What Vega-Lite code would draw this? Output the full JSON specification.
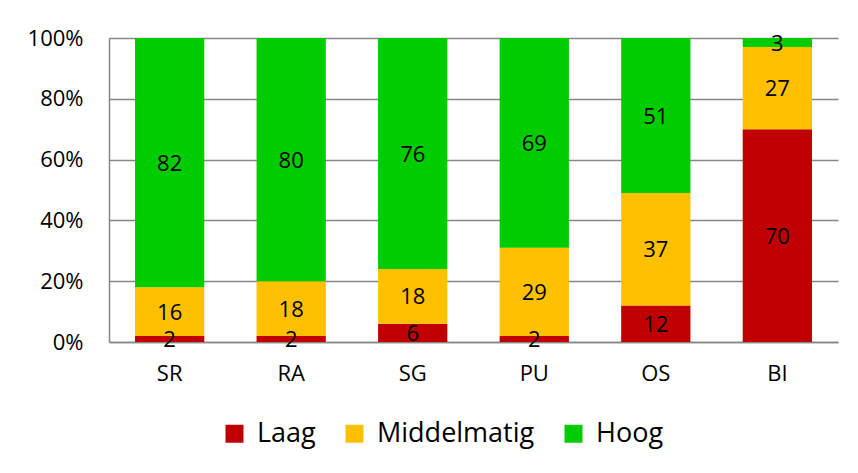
{
  "$schema": "https://vega.github.io/schema/vega-lite/v6.json",
  "autosize": "none",
  "width": 729,
  "height": 304,
  "padding": {"left": 109, "top": 38, "right": 20, "bottom": 131},
  "background": "white",
  "config": {
    "view": {"stroke": null},
    "font": "Open Sans",
    "axis": {"labelFont": "Open Sans", "labelColor": "black", "domainColor": "#878787", "gridColor": "#878787", "ticks": false, "title": null},
    "legend": {"labelFont": "Open Sans"}
  },
  "data": {
    "values": [
      {"cat": "SR", "niveau": "Laag", "order": 1, "value": 2},
      {"cat": "SR", "niveau": "Middelmatig", "order": 2, "value": 16},
      {"cat": "SR", "niveau": "Hoog", "order": 3, "value": 82},
      {"cat": "RA", "niveau": "Laag", "order": 1, "value": 2},
      {"cat": "RA", "niveau": "Middelmatig", "order": 2, "value": 18},
      {"cat": "RA", "niveau": "Hoog", "order": 3, "value": 80},
      {"cat": "SG", "niveau": "Laag", "order": 1, "value": 6},
      {"cat": "SG", "niveau": "Middelmatig", "order": 2, "value": 18},
      {"cat": "SG", "niveau": "Hoog", "order": 3, "value": 76},
      {"cat": "PU", "niveau": "Laag", "order": 1, "value": 2},
      {"cat": "PU", "niveau": "Middelmatig", "order": 2, "value": 29},
      {"cat": "PU", "niveau": "Hoog", "order": 3, "value": 69},
      {"cat": "OS", "niveau": "Laag", "order": 1, "value": 12},
      {"cat": "OS", "niveau": "Middelmatig", "order": 2, "value": 37},
      {"cat": "OS", "niveau": "Hoog", "order": 3, "value": 51},
      {"cat": "BI", "niveau": "Laag", "order": 1, "value": 70},
      {"cat": "BI", "niveau": "Middelmatig", "order": 2, "value": 27},
      {"cat": "BI", "niveau": "Hoog", "order": 3, "value": 3}
    ]
  },
  "transform": [
    {"stack": "value", "groupby": ["cat"], "sort": [{"field": "order"}], "offset": "normalize", "as": ["y0", "y1"]},
    {"calculate": "(datum.y0 + datum.y1) / 2", "as": "ym"}
  ],
  "layer": [
    {
      "mark": {"type": "bar"},
      "encoding": {
        "x": {
          "field": "cat", "type": "nominal",
          "sort": ["SR", "RA", "SG", "PU", "OS", "BI"],
          "scale": {"paddingInner": 0.43, "paddingOuter": 0.214},
          "axis": {"labelAngle": 0, "labelFontSize": 22, "labelPadding": 21, "domainWidth": 1.5}
        },
        "y": {
          "field": "y1", "type": "quantitative",
          "scale": {"domain": [0, 1], "nice": false},
          "axis": {"format": "%", "values": [0, 0.2, 0.4, 0.6, 0.8, 1], "labelFontSize": 22, "labelPadding": 26, "grid": true, "gridWidth": 1.3, "domainWidth": 1.5}
        },
        "y2": {"field": "y0"},
        "color": {
          "field": "niveau", "type": "nominal",
          "scale": {"domain": ["Laag", "Middelmatig", "Hoog"], "range": ["#C00000", "#FFC000", "#00CC00"]},
          "legend": {
            "title": null, "orient": "none", "direction": "horizontal",
            "legendX": 112, "legendY": 382,
            "symbolType": "square", "symbolSize": 324, "symbolStrokeWidth": 0,
            "labelFontSize": 27, "labelOffset": 9, "columnPadding": 25, "labelColor": "black"
          }
        }
      }
    },
    {
      "mark": {"type": "text", "fontSize": 22, "color": "black", "baseline": "middle", "dy": 1},
      "encoding": {
        "x": {"field": "cat", "type": "nominal", "sort": ["SR", "RA", "SG", "PU", "OS", "BI"]},
        "y": {"field": "ym", "type": "quantitative"},
        "text": {"field": "value", "type": "quantitative"}
      }
    }
  ]
}
